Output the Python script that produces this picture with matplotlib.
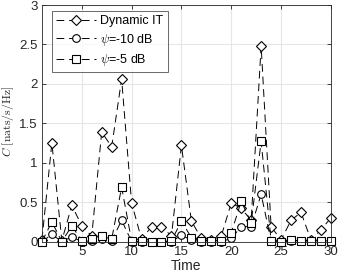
import matplotlib
matplotlib.use("Agg")
import matplotlib.pyplot as plt
import numpy as np

time = list(range(1, 31))
dynamic_it = [0.02, 1.25, 0.01, 0.46, 0.20, 0.07, 1.39, 1.20, 2.06, 0.49,
              0.03, 0.19, 0.19, 0.07, 1.22, 0.26, 0.04, 0.02, 0.07, 0.49,
              0.42, 0.27, 2.48, 0.19, 0.02, 0.27, 0.37, 0.02, 0.15, 0.30]
psi_m10 = [0.00, 0.09, 0.00, 0.06, 0.00, 0.01, 0.03, 0.01, 0.27, 0.00,
           0.00, 0.00, 0.00, 0.00, 0.08, 0.02, 0.00, 0.00, 0.00, 0.04,
           0.19, 0.19, 0.60, 0.01, 0.00, 0.01, 0.01, 0.01, 0.01, 0.01]
psi_m5 = [0.00, 0.25, 0.00, 0.20, 0.01, 0.03, 0.07, 0.03, 0.69, 0.01,
          0.01, 0.00, 0.00, 0.01, 0.26, 0.05, 0.01, 0.01, 0.01, 0.11,
          0.51, 0.24, 1.27, 0.01, 0.00, 0.02, 0.01, 0.01, 0.01, 0.01]
labels = ["Dynamic IT", r"$\psi$=-10 dB", r"$\psi$=-5 dB"]

plt.rcParams['font.family'] = ['Liberation Sans', 'DejaVu Sans']
plt.rcParams['mathtext.fontset'] = 'cm'

fig = plt.figure(figsize=(3.38, 2.78), dpi=100)
ax = fig.add_axes([0.124, 0.131, 0.855, 0.851])

common = dict(color='black', linestyle=(0, (8, 5)), linewidth=0.7,
              markerfacecolor='white', markeredgecolor='black', markeredgewidth=0.8,
              clip_on=False)
ax.plot(time, dynamic_it, marker='D', markersize=5, label=labels[0], **common)
ax.plot(time, psi_m10, marker='o', markersize=5.5, label=labels[1], **common)
ax.plot(time, psi_m5, marker='s', markersize=5.5, label=labels[2], **common)

ax.set_xlim(1, 30)
ax.set_ylim(0, 3)
ax.set_xticks([5, 10, 15, 20, 25, 30])
ax.set_yticks([0, 0.5, 1, 1.5, 2, 2.5, 3])
ax.set_yticklabels(['0', '0.5', '1', '1.5', '2', '2.5', '3'])
ax.grid(True, color='#e6e6e6', linewidth=0.8)
ax.set_axisbelow(True)
ax.tick_params(direction='in', top=True, right=True, length=3, width=0.6,
               labelsize=9.5, colors='#262626', pad=3)
for s in ax.spines.values():
    s.set_color('#262626')
    s.set_linewidth(0.6)

ax.set_xlabel('Time', fontsize=10, color='#262626', labelpad=1)
ax.set_ylabel(r'$C\ [\mathrm{nats/s/Hz}]$', fontsize=8.5, color='#262626')
ax.yaxis.set_label_coords(-0.088, 0.51)

leg = ax.legend(loc='upper left', bbox_to_anchor=(0.035, 0.975), fontsize=9,
                frameon=True, fancybox=False, edgecolor='#262626',
                handlelength=3.2, borderpad=0.35, labelspacing=0.35,
                handletextpad=0.3, borderaxespad=0)
leg.get_frame().set_linewidth(0.6)

fig.savefig('out.png', dpi=100)
